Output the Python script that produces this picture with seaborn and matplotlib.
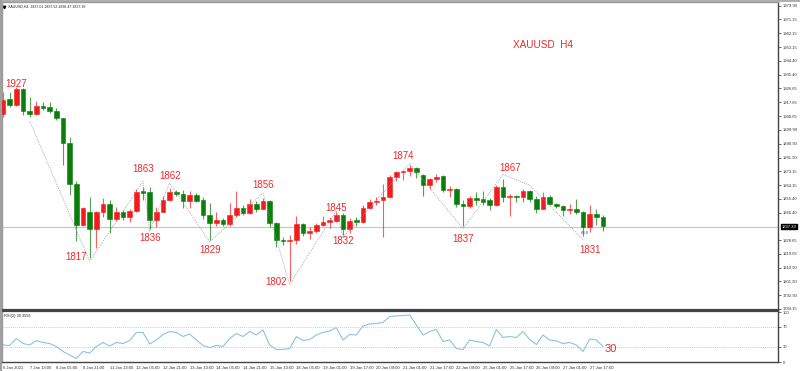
import matplotlib
matplotlib.use('Agg')
import numpy as np
import pandas as pd
import matplotlib.pyplot as plt
import matplotlib.transforms as mtransforms
from matplotlib.lines import Line2D
import seaborn as sns

# H4 candles, 6 Jan 2021 21:00 -> 27 Jan 2021
opens = [1909.8, 1919.5, 1915.8, 1926.0, 1912.0, 1909.8, 1915.4, 1914.5, 1912.1, 1907.2,
         1891.1, 1864.8, 1838.4, 1847.0, 1835.6, 1846.5, 1851.9, 1842.2, 1847.0, 1843.8,
         1847.4, 1860.0, 1859.9, 1841.6, 1847.0, 1854.5, 1859.4, 1858.6, 1854.0, 1858.0,
         1854.5, 1844.8, 1839.5, 1841.6, 1839.0, 1844.8, 1849.6, 1846.4, 1852.0, 1849.0,
         1854.0, 1839.5, 1828.7, 1828.0, 1829.0, 1838.7, 1833.1, 1834.6, 1838.3, 1840.0,
         1841.2, 1844.8, 1835.6, 1841.5, 1840.5, 1849.6, 1853.0, 1854.5, 1856.6, 1869.5,
         1872.7, 1873.3, 1875.3, 1870.6, 1864.2, 1868.0, 1869.9, 1860.9, 1861.5, 1851.7,
         1850.6, 1856.0, 1855.0, 1854.5, 1851.0, 1863.1, 1856.2, 1857.0, 1856.2, 1860.2,
         1855.0, 1849.0, 1856.6, 1851.9, 1850.6, 1848.0, 1848.7, 1846.5, 1836.9, 1845.4,
         1843.7]
closes = [1919.0, 1915.8, 1926.0, 1912.0, 1909.8, 1915.4, 1913.7, 1912.0, 1907.2, 1891.1,
          1864.8, 1838.4, 1849.1, 1835.6, 1846.5, 1851.9, 1842.2, 1847.0, 1843.8, 1847.4,
          1859.9, 1859.0, 1841.6, 1847.0, 1854.5, 1859.4, 1858.6, 1854.0, 1858.0, 1854.0,
          1844.8, 1839.5, 1841.6, 1839.0, 1844.8, 1849.6, 1846.4, 1852.0, 1849.0, 1854.0,
          1839.5, 1828.7, 1828.0, 1829.0, 1838.7, 1833.1, 1834.6, 1838.1, 1840.0, 1841.5,
          1845.0, 1835.6, 1841.0, 1840.5, 1849.6, 1853.0, 1854.0, 1856.6, 1869.5, 1872.7,
          1873.3, 1875.3, 1872.7, 1864.2, 1867.9, 1869.6, 1860.9, 1861.5, 1851.7, 1850.6,
          1856.0, 1854.4, 1853.5, 1851.0, 1863.1, 1856.2, 1857.0, 1856.2, 1860.2, 1855.0,
          1849.0, 1856.6, 1851.9, 1850.6, 1848.0, 1848.7, 1846.5, 1836.9, 1845.4, 1843.7,
          1837.4]
highs = [1924.4, 1924.0, 1927.5, 1926.8, 1921.2, 1918.4, 1917.9, 1917.6, 1913.7, 1907.6,
         1895.4, 1866.8, 1849.9, 1856.6, 1847.6, 1855.6, 1854.5, 1850.0, 1848.0, 1848.5,
         1861.5, 1863.0, 1863.0, 1850.2, 1857.0, 1862.0, 1861.0, 1860.8, 1860.0, 1859.0,
         1856.5, 1852.4, 1846.5, 1843.0, 1852.4, 1860.0, 1851.0, 1855.0, 1854.0, 1856.0,
         1854.5, 1840.6, 1830.5, 1832.0, 1844.0, 1839.5, 1837.0, 1839.5, 1844.0, 1843.5,
         1847.0, 1846.0, 1843.0, 1843.5, 1851.0, 1855.0, 1856.5, 1865.0, 1870.5, 1873.5,
         1874.0, 1877.0, 1876.0, 1871.5, 1869.0, 1871.0, 1870.5, 1863.5, 1862.5, 1854.5,
         1857.0, 1859.5, 1860.0, 1855.5, 1864.0, 1867.8, 1858.5, 1858.0, 1861.5, 1861.0,
         1857.0, 1859.5, 1858.0, 1852.5, 1851.5, 1852.0, 1855.0, 1847.5, 1851.3, 1848.5,
         1844.5]
lows = [1908.3, 1914.7, 1915.0, 1909.3, 1908.3, 1909.3, 1912.8, 1910.5, 1906.1, 1877.1,
        1857.7, 1828.0, 1837.9, 1817.0, 1823.3, 1843.7, 1833.0, 1841.0, 1841.5, 1840.0,
        1846.5, 1854.5, 1836.0, 1837.3, 1846.5, 1854.0, 1857.0, 1849.1, 1849.5, 1853.0,
        1842.0, 1829.0, 1837.5, 1837.5, 1837.5, 1843.5, 1845.0, 1845.5, 1846.5, 1848.5,
        1836.9, 1824.0, 1825.5, 1802.0, 1826.0, 1831.0, 1829.5, 1833.0, 1837.5, 1836.5,
        1840.5, 1832.0, 1833.5, 1838.0, 1839.5, 1848.5, 1851.5, 1830.9, 1855.5, 1867.0,
        1867.5, 1870.0, 1869.0, 1857.0, 1861.5, 1866.0, 1859.5, 1856.5, 1850.0, 1837.5,
        1849.5, 1851.5, 1851.5, 1848.0, 1850.5, 1853.0, 1844.0, 1853.5, 1853.0, 1853.0,
        1846.0, 1848.5, 1851.0, 1849.5, 1844.0, 1845.5, 1845.5, 1831.0, 1834.0, 1838.5,
        1834.5]

rsi = [34, 33, 47, 37, 34, 43, 39, 37, 31, 21,
       14, 7, 21, 18, 31, 39, 32, 39, 37, 43,
       59, 59, 36, 44, 55, 61, 59, 51, 56, 44,
       33, 29, 33, 31, 47, 57, 51, 61, 54, 64,
       34, 25, 25, 27, 51, 43, 45, 54, 59, 62,
       69, 44, 55, 54, 72, 76, 77, 79, 91, 92,
       93, 94, 74, 54, 61, 65, 41, 44, 27, 25,
       44, 41, 39, 32, 65, 49, 51, 49, 61, 45,
       35, 54, 44, 42, 37, 39, 34, 21, 46, 44,
       31]
rsi_levels = [70, 30]

date_labels = ['6 Jan 2021', '7 Jan 13:00', '8 Jan 05:00', '8 Jan 21:00', '11 Jan 13:00',
               '12 Jan 05:00', '12 Jan 21:00', '13 Jan 13:00', '14 Jan 05:00', '14 Jan 21:00',
               '15 Jan 13:00', '18 Jan 05:00', '19 Jan 01:00', '19 Jan 17:00', '20 Jan 09:00',
               '21 Jan 01:00', '21 Jan 17:00', '22 Jan 09:00', '25 Jan 01:00', '25 Jan 17:00',
               '26 Jan 09:00', '27 Jan 01:00', '27 Jan 17:00']

price_ticks = [1979.90, 1971.15, 1962.15, 1953.15, 1944.40, 1935.40, 1926.65, 1917.65,
               1908.65, 1899.90, 1890.90, 1881.90, 1873.15, 1864.15, 1855.40, 1846.40,
               1828.65, 1819.65, 1810.90, 1801.90, 1792.90, 1784.15]
last_price = 1837.39

# zigzag swing points
zz_idx = [4, 13, 21, 22, 25, 31, 39, 43, 50, 51, 61, 69, 75, 79, 87]
zz_price = [1905.5, 1815.0, 1866.5, 1834.5, 1865.5, 1827.5, 1859.0, 1800.0, 1847.5,
            1830.5, 1878.0, 1836.0, 1871.0, 1864.0, 1829.0]

swing_labels = ['1927', '1817', '1863', '1836', '1862', '1829', '1856', '1802', '1845',
                '1832', '1874', '1837', '1867', '1831']
swing_idx = [2, 13, 21, 22, 25, 31, 39, 43, 50, 51, 60, 69, 75, 87]
swing_price = [1927, 1817, 1863, 1836, 1862, 1829, 1856, 1802, 1845, 1832, 1874, 1837, 1867, 1831]
# label offsets in pixels (dx, dy up)
swing_offsets = [(0, 3.7), (-13.7, 1), (0, 17.8), (0, -9.3), (0, 12), (0, -10.4), (0, 12.7),
                 (-13.2, -0.5), (0, 6.7), (0, -6.6), (0, 13.8), (0, -11.9), (7, 12.6), (7, -13.6)]

df = pd.DataFrame({'open': opens, 'high': highs, 'low': lows, 'close': closes, 'rsi': rsi})
df['idx'] = np.arange(len(df))
df['up'] = df['close'] >= df['open']

sns.set_style('white')
plt.rcParams['font.family'] = ['Liberation Sans', 'DejaVu Sans']

W, H = 800, 371
fig = plt.figure(figsize=(W / 100, H / 100), dpi=100)
fig.patch.set_facecolor('white')

ax = fig.add_axes([2 / W, 1 - 310 / H, 776 / W, 308 / H])
ax2 = fig.add_axes([2 / W, 1 - 362 / H, 776 / W, 51 / H], sharex=ax)

RED = '#f21c1c'
GREEN = '#0a7d0a'
colors = np.where(df['up'], RED, GREEN)

# candles
ax.vlines(df['idx'], df['low'], df['high'], colors=colors, linewidth=0.8, alpha=0.7, zorder=2)
ax.bar(df['idx'], df['close'] - df['open'], bottom=df['open'], width=0.72,
       color=colors, edgecolor=colors, linewidth=0.4, zorder=3)

ax.axhline(last_price, color='#c3cbc3', linewidth=0.9, zorder=1)
ax.plot(zz_idx, zz_price, linestyle=(0, (1, 1.5)), color='#8890ae', linewidth=0.6, zorder=4)

label_color = '#ee2a2a'
for txt, i, p, (dx, dy) in zip(swing_labels, swing_idx, swing_price, swing_offsets):
    ax.annotate(txt, xy=(i, p), xytext=(dx * 0.72, dy * 0.72), textcoords='offset points',
                ha='center', va='center', fontsize=7, color=label_color, zorder=5)

ax.text(0.697, 0.859, 'XAUUSD  H4', transform=ax.transAxes, ha='center', va='center',
        fontsize=7.2, color=label_color)
ax.text(0.0077, 0.993, 'XAUUSD,H4  1837.01 1837.52 1836.47 1837.39', transform=ax.transAxes,
        ha='left', va='top', fontsize=2.6, color='#222222')
ax.plot([0.003], [0.985], marker='v', markersize=1.8, color='black', transform=ax.transAxes)
# label of an earlier swing, cut by the left edge as in the terminal
ax.text(-2.2, 1895, '1910', ha='center', va='center', fontsize=7, color=label_color, clip_on=True)
ax.text(87.2, 1833.2, '69.8', ha='center', va='center', fontsize=3, color='#555555')

ax.set_xlim(-0.15, 116.25)
ax.set_ylim(1783.5, 1982.3)
ax.yaxis.tick_right()
ax.set_yticks(price_ticks)
ax.set_yticklabels([f'{v:.2f}' for v in price_ticks])
ax.tick_params(axis='y', labelsize=3, length=2, width=0.5, pad=1.5, colors='#333333', direction='out')
ax.tick_params(axis='x', bottom=False, labelbottom=False)

trans = mtransforms.blended_transform_factory(ax.transAxes, ax.transData)
ax.text(1.005, last_price, f'{last_price:.2f}', transform=trans, ha='left', va='center',
        fontsize=3, color='white',
        bbox=dict(boxstyle='square,pad=0.15', facecolor='black', edgecolor='black'))

for side, c, lw in [('top', '#9a9a9a', 1.0), ('left', '#9a9a9a', 1.0),
                    ('right', '#444444', 1.0), ('bottom', '#444444', 1.6)]:
    ax.spines[side].set_color(c)
    ax.spines[side].set_linewidth(lw)

# RSI panel
sns.lineplot(x=df['idx'], y=df['rsi'], ax=ax2, color='#8cc3e0', linewidth=0.8)
for lvl in rsi_levels:
    ax2.axhline(lvl, color='#b8b8b8', linestyle=(0, (1, 1.5)), linewidth=0.6)
ax2.set_ylim(0, 102)
ax2.set_xlim(-0.15, 116.25)
ax2.set_xlabel('')
ax2.set_ylabel('')
ax2.yaxis.tick_right()
ax2.set_yticks([0, 30, 70, 100])
ax2.set_yticklabels(['0', '30', '70', '100'])
ax2.tick_params(axis='y', labelsize=3, length=2, width=0.5, pad=1.5, colors='#333333')
ax2.set_xticks(np.arange(0, 4 * len(date_labels), 4))
ax2.set_xticklabels(date_labels, ha='left')
ax2.tick_params(axis='x', labelsize=3, length=2, width=0.5, pad=0.8, colors='#333333',
                labelbottom=True)
ax2.text(0.003, 0.95, 'RSI(2) 30.3556', transform=ax2.transAxes, ha='left', va='top',
         fontsize=2.8, color='#222222')
ax2.annotate('30', xy=(df['idx'].iloc[-1], df['rsi'].iloc[-1]), xytext=(1, -2),
             textcoords='offset points', ha='left', va='center', fontsize=8, color=label_color)
for side, c, lw in [('top', '#444444', 1.6), ('left', '#9a9a9a', 1.0),
                    ('right', '#444444', 1.0), ('bottom', '#444444', 1.0)]:
    ax2.spines[side].set_color(c)
    ax2.spines[side].set_linewidth(lw)

# outer frame
fig.add_artist(Line2D([0, 1], [1 - 0.5 / H, 1 - 0.5 / H], color='#a0a0a0', linewidth=1.2))
fig.add_artist(Line2D([0.6 / W, 0.6 / W], [0, 1], color='#a0a0a0', linewidth=1.6))

fig.savefig('out.png', dpi=100, facecolor='white')
